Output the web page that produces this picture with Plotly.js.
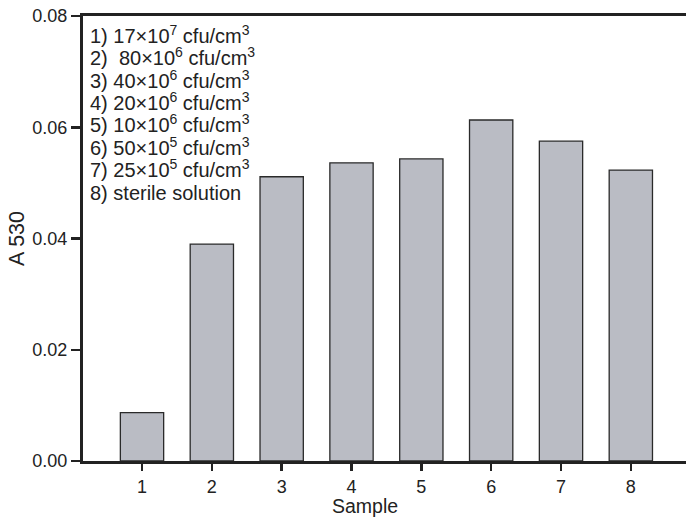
<!DOCTYPE html>
<html><head><meta charset="utf-8">
<script src="https://cdn.plot.ly/plotly-3.0.1.min.js"></script>
<style>body{margin:0;padding:0;background:#fff}#c{width:686px;height:518px}</style>
</head><body><div id="c"></div>
<script>
const samples = [1,2,3,4,5,6,7,8];
const a530 = [0.0087,0.0390,0.0511,0.0536,0.0543,0.0613,0.0575,0.0523];
const tickVals = [1,2,3,4,5,6,7,8];
const yTicks = [0,0.02,0.04,0.06,0.08];
const yTickText = ["0.00","0.02","0.04","0.06","0.08"];
const xTitle = "Sample";
const yTitle = "A 530";
const legendLines = [
  "1) 17×10<sup>7</sup> cfu/cm<sup>3</sup>",
  "2)  80×10<sup>6</sup> cfu/cm<sup>3</sup>",
  "3) 40×10<sup>6</sup> cfu/cm<sup>3</sup>",
  "4) 20×10<sup>6</sup> cfu/cm<sup>3</sup>",
  "5) 10×10<sup>6</sup> cfu/cm<sup>3</sup>",
  "6) 50×10<sup>5</sup> cfu/cm<sup>3</sup>",
  "7) 25×10<sup>5</sup> cfu/cm<sup>3</sup>",
  "8) sterile solution"
];
const font = {family:"Liberation Sans, Arial, sans-serif", color:"#222", size:18};
const trace = {
  type:"bar", x:samples, y:a530, width:0.62,
  marker:{color:"#babcc4", line:{color:"#2a2a2a", width:1.3}},
  hoverinfo:"skip"
};
const plotTop = 16, plotH = 445, plotL = 83, plotW = 603;
const annotations = legendLines.map((t,i)=>({
  xref:"paper", yref:"paper", x:0.009,
  y:(plotTop+plotH-(37+i*22.3 - (t.indexOf("<sup>")>=0 ? 2.5 : 0)))/plotH,
  xanchor:"left", yanchor:"middle", align:"left", showarrow:false,
  text:t, font:{size:20, color:"#222"}
}));
annotations.push({xref:"paper", yref:"paper", x:(365-plotL)/plotW, y:(plotTop+plotH-518)/plotH,
  xanchor:"center", yanchor:"bottom", showarrow:false, borderpad:0, text:xTitle, font:{size:19.5, color:"#222"}});
const layout = {
  width:686, height:518,
  margin:{l:plotL, r:0, t:plotTop, b:57},
  paper_bgcolor:"#fff", plot_bgcolor:"#fff",
  font:font, showlegend:false,
  xaxis:{range:[0.155,8.79], tickvals:tickVals, ticks:"outside", ticklen:7, tickwidth:2.5, tickcolor:"#222",
    showline:true, linecolor:"#222", linewidth:3, mirror:true, showgrid:false, zeroline:false,
    tickfont:{size:18}},
  yaxis:{range:[0,0.08], tickvals:yTicks, ticktext:yTickText, ticks:"outside", ticklen:9, tickwidth:2.5, tickcolor:"#222",
    showline:true, linecolor:"#222", linewidth:3, showgrid:false, zeroline:false,
    title:{text:yTitle, font:{size:21.5}, standoff:2}, tickfont:{size:18}},
  annotations:annotations
};
Plotly.newPlot("c",[trace],layout,{displayModeBar:false, staticPlot:true});
</script></body></html>
